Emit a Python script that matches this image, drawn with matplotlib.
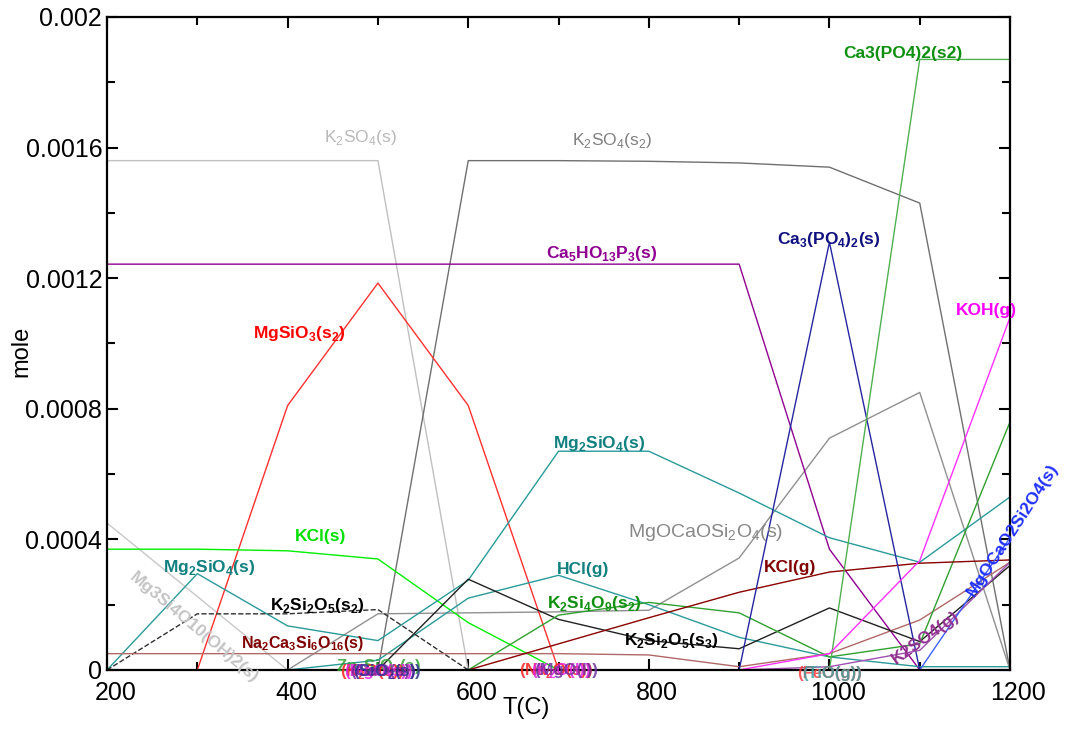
import re
import numpy as np
import matplotlib
matplotlib.use("Agg")
import matplotlib.pyplot as plt
from matplotlib.ticker import MultipleLocator, FuncFormatter
from matplotlib.transforms import ScaledTranslation

plt.rcParams['font.family'] = ['Liberation Sans', 'DejaVu Sans']
plt.rcParams['mathtext.fontset'] = 'custom'
plt.rcParams['mathtext.rm'] = 'Liberation Sans'
plt.rcParams['mathtext.bf'] = 'Liberation Sans:bold'

nan = np.nan
T = [200, 300, 400, 500, 600, 700, 800, 900, 1000, 1100, 1200]

# equilibrium amounts (mole) at each temperature, nan where the phase is absent
k2so4_s = [1.56e-3, 1.56e-3, 1.56e-3, 1.56e-3, 0, nan, nan, nan, nan, nan, nan]
k2so4_s2 = [nan, nan, nan, 0, 1.56e-3, 1.56e-3, 1.558e-3, 1.553e-3, 1.54e-3, 1.43e-3, 0]
ca5ho13p3_s = [1.243e-3, 1.243e-3, 1.243e-3, 1.243e-3, 1.243e-3, 1.243e-3, 1.243e-3, 1.243e-3, 3.7e-4, 0, nan]
mgsio3_s2 = [nan, 0, 8.1e-4, 1.185e-3, 8.1e-4, 0, nan, nan, nan, nan, nan]
kcl_s = [3.7e-4, 3.7e-4, 3.65e-4, 3.4e-4, 1.45e-4, 0, nan, nan, nan, nan, nan]
mg2sio4_s = [0, 2.95e-4, 1.35e-4, 0.9e-4, 2.75e-4, 6.7e-4, 6.7e-4, 5.42e-4, 4.05e-4, 3.3e-4, 5.3e-4]
hcl_g = [nan, nan, 0, 3e-5, 2.2e-4, 2.9e-4, 2e-4, 1e-4, 4e-5, 1e-5, 1e-5]
k2si2o5_s2 = [0, 1.72e-4, 1.72e-4, 1.85e-4, 0, nan, nan, nan, nan, nan, nan]
mg3si4o10oh2_s = [4.5e-4, 2.25e-4, 0, nan, nan, nan, nan, nan, nan, nan, nan]
na2ca3si6o16_s = [5e-5, 5e-5, 5e-5, 5e-5, 5e-5, 5e-5, 4.6e-5, 1e-5, 5e-5, 1.53e-4, 3.3e-4]
mgocaosi2o4_s = [nan, nan, 0, 1.72e-4, 1.75e-4, 1.78e-4, 1.83e-4, 3.43e-4, 7.1e-4, 8.5e-4, 0]
k2si2o5_s3 = [nan, nan, nan, 0, 2.78e-4, 1.55e-4, 0.9e-4, 0.65e-4, 1.9e-4, 0.87e-4, 3.2e-4]
k2si4o9_s2 = [nan, nan, nan, nan, 0, 1.68e-4, 2.07e-4, 1.75e-4, 4e-5, 8e-5, 7.6e-4]
kcl_g = [nan, nan, nan, nan, 0, 8e-5, 1.6e-4, 2.38e-4, 3e-4, 3.27e-4, 3.37e-4]
ca3po42_s = [nan, nan, nan, nan, nan, nan, nan, 0, 1.31e-3, 0, nan]
ca3po42_s2 = [nan, nan, nan, nan, nan, nan, nan, nan, 0, 1.87e-3, 1.87e-3]
koh_g = [nan, nan, nan, nan, nan, nan, nan, 0, 5e-5, 3.35e-4, 1.08e-3]
k2so4_g = [nan, nan, nan, nan, nan, nan, nan, 0, 1e-5, 6e-5, 3.3e-4]
mgocao2si2o4_s = [nan, nan, nan, nan, nan, nan, nan, nan, nan, 0, 4.05e-4]

series = [
    (mg3si4o10oh2_s, '#c8c8c8', '-'),
    (k2so4_s, '#c0c0c0', '-'),
    (k2so4_s2, '#707070', '-'),
    (mgocaosi2o4_s, '#909090', '-'),
    (ca5ho13p3_s, '#900090', '-'),
    (mgsio3_s2, '#ff3030', '-'),
    (kcl_s, '#00ee00', '-'),
    (mg2sio4_s, '#2a9a9a', '-'),
    (hcl_g, '#2a9a9a', '-'),
    (k2si2o5_s2, '#303030', '--'),
    (na2ca3si6o16_s, '#b06868', '-'),
    (k2si2o5_s3, '#202020', '-'),
    (k2si4o9_s2, '#30a030', '-'),
    (kcl_g, '#8b0000', '-'),
    (ca3po42_s, '#2525a0', '-'),
    (ca3po42_s2, '#50b050', '-'),
    (koh_g, '#ff30ff', '-'),
    (k2so4_g, '#a050b0', '-'),
    (mgocao2si2o4_s, '#4060ff', '-'),
]


def chem(s, bold=True):
    # "K_2SO_4(s_2)" -> mathtext subscripts
    fmt = r'$_{\mathbf{%s}}$' if bold else r'$_{\mathrm{%s}}$'
    return re.sub(r'_(\d+)', lambda m: fmt % m.group(1), s)


fig = plt.figure(figsize=(10.66, 7.45), dpi=100)
ax = fig.add_axes([0.1004, 0.1007, 0.8471, 0.8765])

for vals, color, ls in series:
    ax.plot(T, vals, color=color, ls=ls, lw=1.0)

labels = [
    ('K_2SO_4(s)', 481, 1.632e-3, '#b8b8b8', 0, False, 12.5),
    ('K_2SO_4(s_2)', 759, 1.623e-3, '#808080', 0, False, 12.5),
    ('Ca_5HO_13P_3(s)', 748, 1.277e-3, '#900090', 0, True, 12.5),
    ('Ca_3(PO_4)_2(s)', 999, 1.317e-3, '#101080', 0, True, 12.5),
    ('Ca3(PO4)2(s2)', 1081, 1.887e-3, '#109010', 0, True, 12.5),
    ('KOH(g)', 1174, 1.10e-3, '#ff00ff', 0, True, 12.5),
    ('MgSiO_3(s_2)', 413, 1.032e-3, '#ff0000', 0, True, 12.5),
    ('Mg_2SiO_4(s)', 745, 6.95e-4, '#108080', 0, True, 12.5),
    ('MgOCaOSi_2O_4(s)', 863, 4.2e-4, '#888888', 0, False, 14),
    ('KCl(s)', 437, 4.1e-4, '#00e000', 0, True, 12.5),
    ('HCl(g)', 727, 3.09e-4, '#108080', 0, True, 12.5),
    ('KCl(g)', 956, 3.15e-4, '#800000', 0, True, 12.5),
    ('Mg_2SiO_4(s)', 313, 3.15e-4, '#108080', 0, True, 12.5),
    ('K_2Si_2O_5(s_2)', 433, 1.96e-4, '#000000', 0, True, 12.5),
    ('K_2Si_4O_9(s_2)', 740, 2.05e-4, '#109010', 0, True, 12.5),
    ('K_2Si_2O_5(s_3)', 825, 0.89e-4, '#000000', 0, True, 12.5),
    ('Na_2Ca_3Si_6O_16(s)', 416, 0.82e-4, '#800000', 0, True, 11.5),
    ('Mg3Si4O10(OH)2(s)', 296, 1.29e-4, '#c4c4c4', -40, True, 12.5),
    ('MgOCaO2Si2O4(s)', 1203, 4.3e-4, '#2030ff', 57, True, 12.5),
    ('K2SO4(g)', 1106, 1.0e-4, '#903090', 36, True, 12.5),
]
for text, x, y, color, rot, bold, size in labels:
    ax.text(x, y, chem(text, bold), color=color, fontsize=size, rotation=rot,
            fontweight='bold' if bold else 'normal', ha='center', va='center',
            rotation_mode='anchor', clip_on=False)

# crowded labels of minor phases sitting on the axis
crowd = [
    (500, 1.2e-5, 'Zn_2SiO_4(s)', '#30a030'),
    (494, -4e-6, '(K_2O(s))', '#ff2020'),
    (500, -4e-6, '(MgO(s))', '#e020e0'),
    (506, -4e-6, '(CaO(s))', '#8020a0'),
    (510, -6e-6, '(SiO_2(s))', '#303090'),
    (697, -2e-6, '(Na_2O(s))', '#ff2020'),
    (703, -2e-6, '(K_2O(l))', '#e020e0'),
    (708, -2e-6, '(MgO(l))', '#7030a0'),
    (1000, -1.0e-5, '(FeO(g))', '#ff4040'),
    (1003, -1.0e-5, '(TiO(g))', '#40a0a0'),
]
for x, y, text, color in crowd:
    ax.text(x, y, chem(text), color=color, fontsize=12, fontweight='bold',
            ha='center', va='center', alpha=0.85, clip_on=False)

ax.set_xlim(200, 1200)
ax.set_ylim(0, 0.002)
ax.xaxis.set_major_locator(MultipleLocator(200))
ax.xaxis.set_minor_locator(MultipleLocator(100))
ax.yaxis.set_major_locator(MultipleLocator(0.0004))
ax.yaxis.set_minor_locator(MultipleLocator(0.0002))
ax.yaxis.set_major_formatter(FuncFormatter(lambda v, p: '%g' % round(v, 6)))
ax.tick_params(which='both', direction='in', top=True, right=True, width=1.5)
ax.tick_params(which='major', length=8, labelsize=18)
ax.tick_params(which='minor', length=6)
ax.tick_params(axis='x', pad=8)
for sp in ax.spines.values():
    sp.set_linewidth(1.6)

# x tick labels sit a little right of their ticks
shift = ScaledTranslation(6 / 72, 0, fig.dpi_scale_trans)
for lbl in ax.get_xticklabels():
    lbl.set_transform(lbl.get_transform() + shift)

ax.set_xlabel('T(C)', fontsize=17)
ax.xaxis.set_label_coords(0.4645, -0.041)
ax.set_ylabel('mole', fontsize=17)
ax.yaxis.set_label_coords(-0.083, 0.4885)

fig.savefig('out.png', dpi=100)
